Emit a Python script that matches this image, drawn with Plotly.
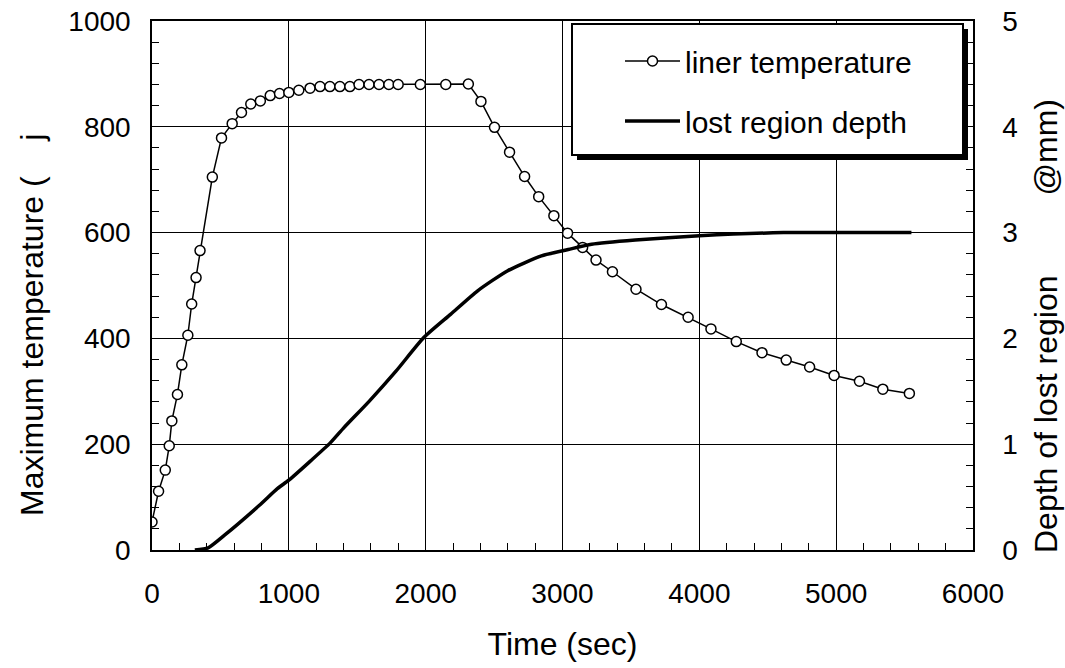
import plotly.graph_objects as go

# ---- data ----
temp_time = [0, 48, 97, 126, 145, 186, 218, 262, 290, 322, 351, 441, 508, 586, 654,
             722, 792, 864, 932, 1000, 1073, 1155, 1228, 1300, 1373, 1446, 1513,
             1586, 1659, 1731, 1799, 1961, 2147, 2312, 2404, 2503, 2613, 2723, 2826,
             2937, 3037, 3147, 3245, 3365, 3537, 3723, 3918, 4085, 4270, 4458, 4635,
             4806, 4985, 5170, 5341, 5535]
temp_value = [53, 111, 151, 197, 244, 294, 350, 406, 465, 515, 566, 705, 779, 806, 827,
              843, 849, 859, 863, 865, 869, 873, 876, 876, 876, 876, 880,
              880, 880, 880, 880, 880, 880, 881, 848, 799, 752, 706, 668,
              632, 599, 572, 548, 526, 493, 464, 440, 418, 394, 373, 359,
              346, 330, 319, 304, 296]

depth_time = [313, 410, 530, 783, 916, 1000, 1157, 1301, 1398, 1590, 1783, 1988,
              2184, 2380, 2600, 2846, 3042, 3213, 3532, 4000, 4615, 5550]
depth_value = [0.0, 0.02, 0.14, 0.42, 0.58, 0.66, 0.84, 1.01, 1.15, 1.41, 1.69, 2.01,
               2.23, 2.45, 2.64, 2.78, 2.84, 2.89, 2.93, 2.97, 3.0, 3.0]

x_ticks = [0, 1000, 2000, 3000, 4000, 5000, 6000]
y_ticks = [0, 200, 400, 600, 800, 1000]
y2_ticks = [0, 1, 2, 3, 4, 5]

FONT = "Liberation Sans, Arial, sans-serif"
FS_TICK = 28
FS_TITLE = 32
FS_LEG = 30

# plot area in page pixels: x 152..973, y 21..550 (page body margin removed below)
L, R, T, B = 152, 1065 - 973, 21, 668 - 550
PW, PH = 973 - 152, 550 - 21


def px(sx):
    return (sx - 152) / PW


def py(sy):
    return (550 - sy) / PH


fig = go.Figure()
fig.add_trace(go.Scatter(
    x=temp_time, y=temp_value, name="liner temperature", mode="lines+markers",
    line=dict(color="black", width=1.5),
    marker=dict(symbol="circle", size=10, color="white",
                line=dict(color="black", width=1.5)),
    legendgroup="a", yaxis="y"))
fig.add_trace(go.Scatter(
    x=depth_time, y=depth_value, name="lost region depth", mode="lines",
    line=dict(color="black", width=3.5, shape="spline", smoothing=0.6),
    legendgroup="b", yaxis="y2"))

axis_common = dict(
    showline=True, linecolor="black", linewidth=1.5,
    ticks="inside", ticklen=7, tickcolor="black", tickwidth=1,
    tickfont=dict(family=FONT, size=FS_TICK, color="black"),
    zeroline=False, automargin=False, ticklabeloverflow="allow",
)

fig.update_layout(
    width=1065, height=668,
    margin=dict(l=L, r=R, t=T, b=B, autoexpand=False),
    paper_bgcolor="white", plot_bgcolor="white",
    font=dict(family=FONT, size=FS_TICK, color="black"),
    xaxis=dict(range=[0, 6000], tickvals=x_ticks, showgrid=True, gridcolor="black",
               gridwidth=1, mirror=True, ticklabelstandoff=18,
               minor=dict(dtick=200, ticks="inside", ticklen=7, tickcolor="black",
                          showgrid=False),
               title=dict(text="Time (sec)", font=dict(family=FONT, size=FS_TITLE),
                          standoff=24),
               **axis_common),
    yaxis=dict(range=[0, 1000], tickvals=y_ticks, showgrid=True, gridcolor="black",
               gridwidth=1, ticklabelstandoff=14,
               minor=dict(dtick=40, ticks="inside", ticklen=7, tickcolor="black",
                          showgrid=False),
               **axis_common),
    yaxis2=dict(range=[0, 5], tickvals=y2_ticks, overlaying="y", side="right",
                showgrid=False, ticklabelstandoff=22,
                minor=dict(dtick=0.2, ticks="inside", ticklen=7, tickcolor="black",
                           showgrid=False),
                **axis_common),
    legend=dict(x=px(620), y=py(35), xanchor="left", yanchor="top",
                bgcolor="rgba(0,0,0,0)", borderwidth=0,
                font=dict(family=FONT, size=FS_LEG, color="black"),
                tracegroupgap=18, itemwidth=55),
    showlegend=True,
)

# legend frame with heavy drop shadow
fig.add_shape(type="rect", xref="paper", yref="paper",
              x0=px(577), x1=px(968), y0=py(160), y1=py(29),
              fillcolor="black", line=dict(width=0), layer="above")
fig.add_shape(type="rect", xref="paper", yref="paper",
              x0=px(572), x1=px(963), y0=py(155), y1=py(24),
              fillcolor="white", line=dict(color="black", width=2), layer="above")

# rotated axis titles
fig.add_annotation(text="Maximum temperature (\u00a0\u00a0\u00a0\u00a0j",
                   xref="paper", yref="paper", x=px(32), y=py(325),
                   textangle=-90, showarrow=False,
                   font=dict(family=FONT, size=FS_TITLE, color="black"),
                   xanchor="center", yanchor="middle")
fig.add_annotation(text="Depth of lost region" + "\u00a0" * 9 + "@mm)",
                   xref="paper", yref="paper", x=px(1046), y=py(326),
                   textangle=-90, showarrow=False,
                   font=dict(family=FONT, size=FS_TITLE, color="black"),
                   xanchor="center", yanchor="middle")

fig.write_html("out.html",
               config={"displayModeBar": False},
               post_script="document.body.style.margin='0';")
